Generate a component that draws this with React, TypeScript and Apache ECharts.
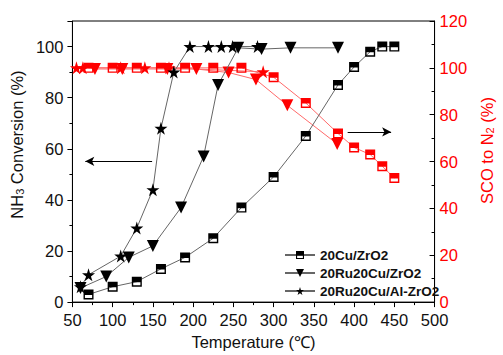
import React, { useEffect, useRef } from "react";
import * as echarts from "echarts";

// 20Cu/ZrO2
const cuTemps = [70, 100, 130, 160, 190, 225, 260, 300, 340, 380, 400, 420, 435, 450];
const cuConv = [3, 6, 8, 13, 17.5, 25, 37, 49, 65, 85, 92, 98, 100, 100];
const cuSco = [100, 100, 100, 100, 100, 100, 100, 96, 85, 72, 66, 63, 58, 53];
// 20Ru20Cu/ZrO2
const ruTemps = [60, 92, 120, 150, 185, 213, 231, 256, 285, 321, 380];
const ruConv = [5.5, 10, 17.5, 22, 37, 57, 85, 99.5, 99, 99.5, 99.5];
const ruScoTemps = [78, 112, 168, 204, 244, 278, 317, 379];
const ruSco = [99.5, 99.5, 99.5, 99.5, 98, 95, 84, 67.5];
// 20Ru20Cu/Al-ZrO2
const alTemps = [60, 70, 110, 130, 150, 160, 176, 196, 219, 235, 249, 280];
const alConv = [6, 10.7, 18, 29, 44, 68, 90, 100, 100, 100, 100, 100];
const alScoTemps = [55, 63, 110, 140, 170, 287];
const alSco = [100, 100, 100, 100, 100, 98.3];

const seriesNames = ["20Cu/ZrO2", "20Ru20Cu/ZrO2", "20Ru20Cu/Al-ZrO2"];
const xTicks = { min: 50, max: 500, interval: 50 };
const leftTicks = { min: 0, max: 110, interval: 20 };
const rightTicks = { min: 0, max: 120, interval: 20 };

const halfSquare = "path://M0,0L10,0L10,10L0,10Z M1.4,5.6L1.4,8.6L8.6,8.6L8.6,5.6Z";
const star = "path://M50,0 L61,35 L98,35 L68,57 L79,91 L50,70 L21,91 L32,57 L2,35 L39,35 Z";

const zip = (xs: number[], ys: number[]) => xs.map((x, i) => [x, ys[i]]);

export default function App() {
  const ref = useRef<HTMLDivElement>(null);
  useEffect(() => {
    if (!ref.current) return;
    const chart = echarts.init(ref.current, null, { renderer: "svg" });
    const font = "Arial, 'Liberation Sans', sans-serif";
    const black = "#000";
    const red = "#ff0000";
    const blackLine = { color: "#666", width: 1 };
    const redLine = { color: "#ff6a6a", width: 1 };
    const fs = 16.5;
    chart.setOption({
      animation: false,
      textStyle: { fontFamily: font },
      grid: { left: 64, right: 55, top: 21, bottom: 51, show: true, borderColor: "#000", borderWidth: 1, containLabel: false },
      legend: {
        data: seriesNames,
        orient: "vertical",
        left: 279,
        top: 243,
        itemWidth: 30,
        itemHeight: 10,
        itemGap: 4,
        textStyle: { fontSize: 13.5, fontWeight: "bold", color: "#111", fontFamily: font },
      },
      xAxis: {
        type: "value",
        ...xTicks,
        name: "Temperature (℃)",
        nameLocation: "middle",
        nameGap: 28,
        nameTextStyle: { fontSize: fs, color: "#111" },
        axisLine: { lineStyle: { color: "#000", width: 1 } },
        axisTick: { show: true, inside: false, length: 5, lineStyle: { color: "#000" } },
        minorTick: { show: true, splitNumber: 2, length: 3, lineStyle: { color: "#000" } },
        axisLabel: { fontSize: fs, color: "#111", margin: 10, lineHeight: 15 },
        splitLine: { show: false },
      },
      yAxis: [
        {
          type: "value",
          ...leftTicks,
          position: "left",
          name: "{a|NH}{s|3}{a| Conversion (%)}",
          nameLocation: "middle",
          nameRotate: 90,
          nameGap: 36,
          nameTextStyle: {
            padding: [0, 0, 0, 34],
            rich: {
              a: { fontSize: fs, color: "#111", fontFamily: font },
              s: { fontSize: 11, color: "#111", fontFamily: font, verticalAlign: "bottom" },
            },
          },
          axisLine: { show: true, lineStyle: { color: "#000", width: 1 } },
          axisTick: { show: true, inside: false, length: 5, lineStyle: { color: "#000" } },
          minorTick: { show: true, splitNumber: 2, length: 3, lineStyle: { color: "#000" } },
          axisLabel: {
            fontSize: fs,
            color: "#111",
            margin: 9,
            lineHeight: 14,
            formatter: (v: number) => (v > 100 ? "" : String(v)),
          },
          splitLine: { show: false },
        },
        {
          type: "value",
          ...rightTicks,
          position: "right",
          name: "{a|SCO to N}{s|2}{a| (%)}",
          nameLocation: "middle",
          nameRotate: 90,
          nameGap: 36,
          nameTextStyle: {
            padding: [0, 0, 0, 22],
            rich: {
              a: { fontSize: fs, color: red, fontFamily: font },
              s: { fontSize: 11, color: red, fontFamily: font, verticalAlign: "bottom" },
            },
          },
          axisLine: { show: true, lineStyle: { color: "#000", width: 1 } },
          axisTick: { show: true, inside: true, length: 5, lineStyle: { color: "#000" } },
          minorTick: { show: true, splitNumber: 2, length: 3, lineStyle: { color: "#000" } },
          axisLabel: { fontSize: fs, color: red, margin: 5, lineHeight: 13 },
          splitLine: { show: false },
        },
      ],
      series: [
        {
          name: "SCO-" + seriesNames[0],
          type: "line",
          yAxisIndex: 1,
          data: zip(cuTemps, cuSco),
          symbol: halfSquare,
          symbolSize: 10,
          itemStyle: { color: red },
          lineStyle: redLine,
          z: 2,
        },
        {
          name: "SCO-" + seriesNames[1],
          type: "line",
          yAxisIndex: 1,
          data: zip(ruScoTemps, ruSco),
          symbol: "triangle",
          symbolRotate: 180,
          symbolSize: 12,
          itemStyle: { color: red },
          lineStyle: redLine,
          z: 2,
        },
        {
          name: "SCO-" + seriesNames[2],
          type: "line",
          yAxisIndex: 1,
          data: zip(alScoTemps, alSco),
          symbol: star,
          symbolSize: 13,
          itemStyle: { color: red },
          lineStyle: redLine,
          z: 2,
        },
        {
          name: seriesNames[0],
          type: "line",
          yAxisIndex: 0,
          data: zip(cuTemps, cuConv),
          symbol: halfSquare,
          symbolSize: 10,
          itemStyle: { color: black },
          lineStyle: blackLine,
          z: 3,
          markLine: {
            silent: true,
            symbol: ["none", "arrow"],
            symbolSize: [7, 9],
            label: { show: false },
            lineStyle: { color: "#000", type: "solid", width: 1 },
            data: [
              [{ coord: [149, 55.1] }, { coord: [66, 55.1] }],
              [{ coord: [392, 66.6] }, { coord: [446, 66.6] }],
            ],
          },
        },
        {
          name: seriesNames[1],
          type: "line",
          yAxisIndex: 0,
          data: zip(ruTemps, ruConv),
          symbol: "triangle",
          symbolRotate: 180,
          symbolSize: 12,
          itemStyle: { color: black },
          lineStyle: blackLine,
          z: 3,
        },
        {
          name: seriesNames[2],
          type: "line",
          yAxisIndex: 0,
          data: zip(alTemps, alConv),
          symbol: star,
          symbolSize: 13,
          itemStyle: { color: black },
          lineStyle: blackLine,
          z: 3,
        },
      ],
    });
    return () => chart.dispose();
  }, []);
  return <div ref={ref} style={{ width: 503, height: 355, position: "absolute", left: 0, top: 0 }} />;
}
